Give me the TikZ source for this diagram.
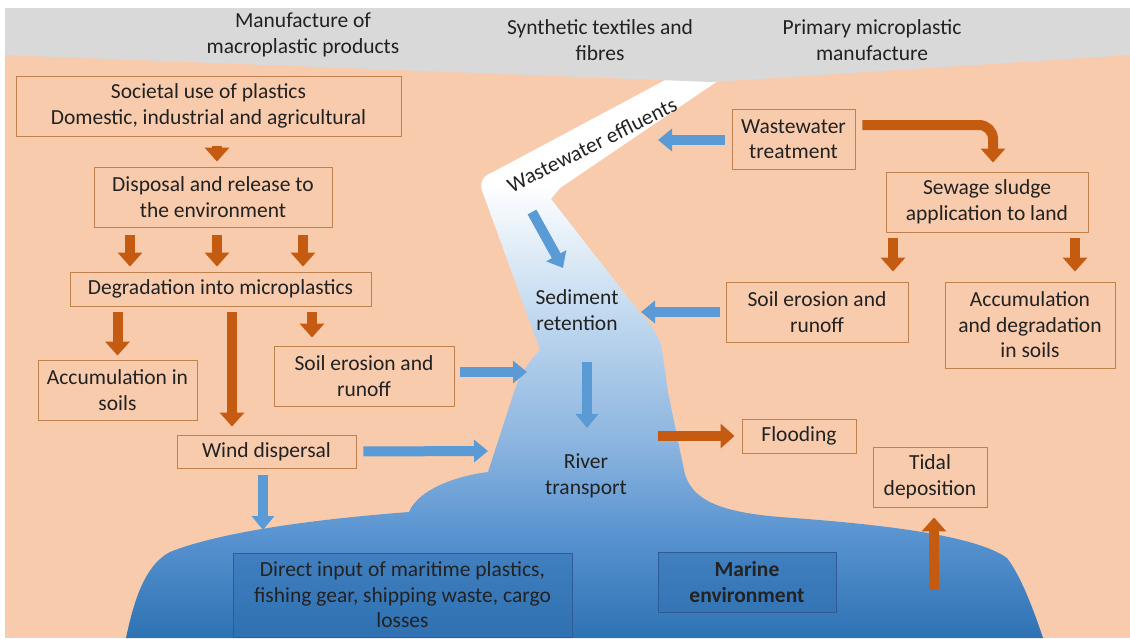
\documentclass[tikz,border=0pt]{standalone}
\usepackage{fontspec}
\setmainfont{Carlito}
\usetikzlibrary{arrows.meta}

\definecolor{peach}{HTML}{F8CBAD}
\definecolor{bandgray}{HTML}{D9D9D9}
\definecolor{ink}{HTML}{222222}
\definecolor{boxline}{HTML}{C0814F}
\definecolor{arroworange}{HTML}{C55A11}
\definecolor{arrowblue}{HTML}{5B9BD5}
\definecolor{riverdeep}{HTML}{2E72B3}
\definecolor{riversea}{HTML}{5893D0}
\definecolor{rivermid}{HTML}{8BB4DF}
\definecolor{riverpale}{HTML}{C4DBF0}
\definecolor{seaboxline}{HTML}{2F5C94}
\definecolor{seaboxfill}{HTML}{2F6FB0}
\definecolor{marinefill}{HTML}{2F70B2}

\pgfdeclareverticalshading{riverfade}{100bp}{color(0bp)=(riverdeep); color(25bp)=(riverdeep); color(34bp)=(riversea); color(42bp)=(rivermid); color(54bp)=(riverpale); color(65bp)=(white); color(100bp)=(white)}

\tikzset{
  flowbox/.style 2 args={draw=boxline, line width=0.9pt, inner sep=0pt, align=center, text=ink,
    minimum width=#1, minimum height=#2},
  seabox/.style 2 args={draw=seaboxline, fill=seaboxfill, fill opacity=0.45, draw opacity=1, text opacity=1,
    line width=1pt, inner sep=0pt, align=center, text=ink, minimum width=#1, minimum height=#2},
  plaintext/.style={align=center, text=ink, inner sep=0pt},
  orangearrow/.style={draw=arroworange, line width=10pt, -{Triangle[length=14pt,width=24pt]}},
  bluearrow/.style={draw=arrowblue, line width=10pt, -{Triangle[length=14pt,width=22pt]}},
}

\begin{document}
\begin{tikzpicture}[x=1pt,y=-1pt,font=\fontsize{21.5}{25.5}\selectfont]
\useasboundingbox (0,0) rectangle (1130,638);
\fill[white] (0,0) rectangle (1130,638);
\fill[peach] (5,8) rectangle (1130,638);

% river and sea
\shade[shading=riverfade]
  (493,172) -- (684,70) -- (734,70) -- (560,188) -- (551,199)
  -- (640,313) .. controls (652,325) and (660,338) .. (662,350)
  -- (668,392) -- (684,470) .. controls (690,500) and (720,512) .. (780,517)
  .. controls (880,524) and (975,535) .. (1007,558)
  .. controls (1020,575) and (1032,605) .. (1043,638)
  -- (126,638)
  .. controls (134,600) and (145,565) .. (170,552)
  .. controls (225,530) and (330,518) .. (409,512)
  .. controls (418,490) and (455,476) .. (488,472)
  -- (514,392) .. controls (520,375) and (528,362) .. (540,350)
  -- (484,196) .. controls (478,183) and (482,176) .. (493,172) -- cycle;

% grey band at the top
\fill[bandgray] (5,8) -- (1130,8) -- (1130,55) -- (712,82) -- (5,55) -- cycle;

\node[plaintext] (macro) at (303,35) {Manufacture of\\macroplastic products};
\node[plaintext] (textile) at (600,40) {Synthetic textiles and\\fibres};
\node[plaintext] (primary) at (872,40) {Primary microplastic\\manufacture};

% left column
\node[flowbox={385pt}{60pt}] (societal) at (208.5,106) {Societal use of plastics\\Domestic, industrial and agricultural};
\node[flowbox={238pt}{60pt}] (disposal) at (213,197) {Disposal and release to\\the environment};
\node[flowbox={301pt}{34pt}] (degrade) at (220.5,289) {Degradation into microplastics};
\node[flowbox={159pt}{60pt}] (soilacc) at (117.5,390) {Accumulation in\\soils};
\node[flowbox={180pt}{60pt}] (runoffL) at (364,376) {Soil erosion and\\runoff};
\node[flowbox={179pt}{33pt}] (wind) at (266.5,451.5) {Wind dispersal};

% right column
\node[flowbox={123pt}{60pt}] (wwt) at (793.5,139) {Wastewater\\treatment};
\node[flowbox={202pt}{60pt}] (sludge) at (987,202) {Sewage sludge\\application to land};
\node[flowbox={182pt}{60pt}] (runoffR) at (817,312) {Soil erosion and\\runoff};
\node[flowbox={170pt}{86pt}] (soildeg) at (1030,325) {Accumulation\\and degradation\\in soils};
\node[flowbox={114pt}{34pt}] (flood) at (799,436) {Flooding};
\node[flowbox={114pt}{60pt}] (tidal) at (930,477) {Tidal\\deposition};

% sea
\node[seabox={339pt}{84pt}] (direct) at (402.5,595) {Direct input of maritime plastics,\\fishing gear, shipping waste, cargo\\losses};
\node[seabox={178pt}{60pt}, font=\fontsize{21.5}{25.5}\selectfont\bfseries] (marine) at (747,582) {Marine\\environment};

% river texts
\node[plaintext, rotate=26.5] (effluent) at (592,145) {Wastewater effluents};
\node[plaintext] (sediment) at (577,310) {Sediment\\retention};
\node[plaintext] (transport) at (586,476) {River\\transport};

\coordinate (effin) at (658,140);
\coordinate (bendtop) at (532,212);
\coordinate (bendlow) at (563,268);
\coordinate (runoffRin) at (641,312);
\coordinate (runoffLin) at (527,372);
\coordinate (windin) at (488,451);
\coordinate (seatop) at (263,530);
\coordinate (floodout) at (658,436);
\coordinate (tidalin) at (934,590);

% orange arrows
\draw[orangearrow, shorten <=10pt, shorten >=5pt] ([xshift=4pt]disposal.north |- societal.south) -- ([xshift=4pt]disposal.north);
\foreach \dx in {-83,4,90}
  \draw[orangearrow, shorten <=8pt, shorten >=5pt] ([xshift=\dx pt]disposal.south) -- ([xshift=\dx pt]disposal.south |- degrade.north);
\draw[orangearrow, shorten <=6pt, shorten >=4pt] (soilacc.north |- degrade.south) -- (soilacc.north);
\draw[orangearrow, shorten <=6pt, shorten >=8pt] ([xshift=-34.5pt]wind.north |- degrade.south) -- ([xshift=-34.5pt]wind.north);
\draw[orangearrow, shorten <=6pt, shorten >=8pt] ([xshift=-52pt]runoffL.north |- degrade.south) -- ([xshift=-52pt]runoffL.north);
\draw[orangearrow, rounded corners=14pt, shorten <=7pt, shorten >=9pt] ([yshift=14pt]wwt.east) -| ([xshift=6pt]sludge.north);
\draw[orangearrow, shorten <=6pt, shorten >=10pt] ([xshift=76pt]runoffR.north |- sludge.south) -- ([xshift=76pt]runoffR.north);
\draw[orangearrow, shorten <=6pt, shorten >=10pt] ([xshift=45pt]soildeg.north |- sludge.south) -- ([xshift=45pt]soildeg.north);
\draw[orangearrow, shorten >=7pt] (floodout) -- (flood.west);
\draw[orangearrow, shorten >=10pt] (tidalin) -- (tidalin |- tidal.south);

% blue arrows
\draw[bluearrow, shorten <=7pt] (wwt.west |- effin) -- (effin);
\draw[bluearrow] (bendtop) -- (bendlow);
\draw[bluearrow, shorten <=6pt] (runoffR.west) -- (runoffRin);
\draw[bluearrow, shorten <=6pt] (runoffL.east |- runoffLin) -- (runoffLin);
\draw[bluearrow, shorten <=52pt, shorten >=48pt] ([xshift=10pt]sediment.center) -- ([xshift=1pt]transport.center);
\draw[bluearrow, shorten <=7pt] (wind.east) -- (windin);
\draw[bluearrow, shorten <=7pt] (seatop |- wind.south) -- (seatop);
\end{tikzpicture}
\end{document}
